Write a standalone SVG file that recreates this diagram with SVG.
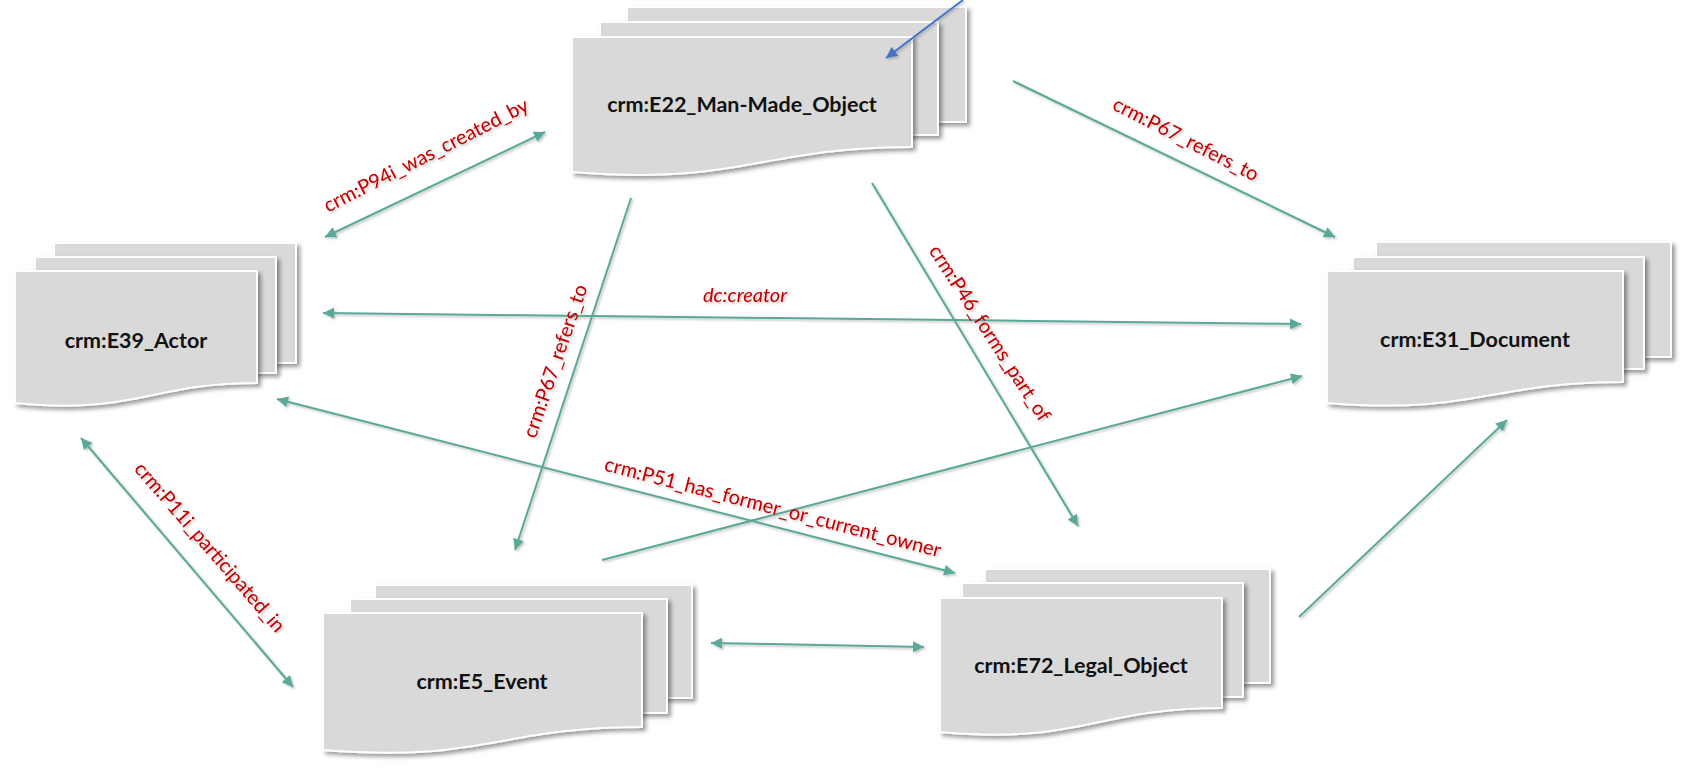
<svg xmlns="http://www.w3.org/2000/svg" width="1690" height="774" viewBox="0 0 1690 774">
<style>
.sheet{fill:#d9d9d9;stroke:#ffffff;stroke-width:2;filter:url(#sh)}
.nl{font-family:Lato,"Liberation Sans",sans-serif;font-weight:bold;font-size:21.5px;fill:#111;text-anchor:middle}
.el{font-family:Lato,"Liberation Sans",sans-serif;font-size:20px;fill:#c00000;text-anchor:middle}
.it{font-style:italic}
.c{stroke:#5aa897;stroke-width:2;fill:none;marker-end:url(#ah)}
.d{marker-start:url(#ah)}
.b{stroke:#4472c4;stroke-width:2;fill:none;marker-end:url(#bh)}
</style>
<defs>
<filter id="sh" x="-10%" y="-10%" width="125%" height="130%">
<feDropShadow dx="3" dy="3" stdDeviation="2" flood-color="#000" flood-opacity="0.4"/>
</filter>
<filter id="lsh" x="-10%" y="-10%" width="130%" height="130%">
<feDropShadow dx="1.5" dy="1.5" stdDeviation="1" flood-color="#000" flood-opacity="0.25"/>
</filter>
<marker id="ah" viewBox="0 0 10 10" refX="10" refY="5" markerWidth="15" markerHeight="11" markerUnits="userSpaceOnUse" orient="auto-start-reverse">
<path d="M0,0 L10,5 L0,10 z" fill="#5aa897"/>
</marker>
<marker id="bh" viewBox="0 0 10 10" refX="10" refY="5" markerWidth="15" markerHeight="11" markerUnits="userSpaceOnUse" orient="auto">
<path d="M0,0 L10,5 L0,10 z" fill="#4472c4"/>
</marker>
</defs>
<rect width="1690" height="774" fill="#ffffff"/>

<g id="E22">
<rect class="sheet" x="627" y="7" width="339" height="115"/>
<rect class="sheet" x="600" y="22" width="338" height="113"/>
<path class="sheet" d="M572,37 H912 V147 C760,147 742,186 572,172 Z"/>
<text class="nl" x="742" y="112">crm:E22_Man-Made_Object</text>
</g>

<g id="E39">
<rect class="sheet" x="54" y="243" width="242" height="120"/>
<rect class="sheet" x="35" y="257" width="241" height="116"/>
<path class="sheet" d="M15,271 H257 V383 C150,383 136,415 15,403 Z"/>
<text class="nl" x="136" y="348">crm:E39_Actor</text>
</g>

<g id="E31">
<rect class="sheet" x="1376" y="242" width="295" height="115"/>
<rect class="sheet" x="1353" y="257" width="291" height="112"/>
<path class="sheet" d="M1327,271 H1623 V382 C1490,382 1475,415 1327,403 Z"/>
<text class="nl" x="1475" y="347">crm:E31_Document</text>
</g>

<g id="E5">
<rect class="sheet" x="375" y="585" width="317" height="113"/>
<rect class="sheet" x="350" y="599" width="317" height="114"/>
<path class="sheet" d="M323,613 H642 V727 C500,727 482,763 323,750 Z"/>
<text class="nl" x="482" y="689">crm:E5_Event</text>
</g>

<g id="E72">
<rect class="sheet" x="985" y="569" width="285" height="114"/>
<rect class="sheet" x="962" y="583" width="281" height="114"/>
<path class="sheet" d="M940,598 H1222 V708 C1095,708 1080,745 940,732 Z"/>
<text class="nl" x="1081" y="673">crm:E72_Legal_Object</text>
</g>

<g id="connectors" filter="url(#lsh)">
<line class="c d" x1="325" y1="237" x2="545" y2="132"/>
<line class="c" x1="1013" y1="81" x2="1335" y2="237"/>
<line class="c d" x1="323" y1="313" x2="1301" y2="324"/>
<line class="c" x1="631" y1="198" x2="515" y2="550"/>
<line class="c" x1="872" y1="183" x2="1078" y2="526"/>
<line class="c d" x1="277" y1="399" x2="955" y2="573"/>
<line class="c" x1="602" y1="560" x2="1302" y2="376"/>
<line class="c d" x1="81" y1="438" x2="293" y2="687"/>
<line class="c d" x1="711" y1="643" x2="924" y2="647"/>
<line class="c" x1="1299" y1="617" x2="1507" y2="420"/>
<line class="b" x1="963" y1="0" x2="886" y2="58"/>
<text class="el" transform="translate(426,155) rotate(-27)" dy=".35em">crm:P94i_was_created_by</text>
<text class="el" transform="translate(1186,139) rotate(27)" dy=".35em">crm:P67_refers_to</text>
<text class="el it" x="745" y="302">dc:creator</text>
<text class="el" transform="translate(555,361) rotate(-71)" dy=".35em">crm:P67_refers_to</text>
<text class="el" transform="translate(990,333) rotate(57)" dy=".35em">crm:P46_forms_part_of</text>
<text class="el" transform="translate(773,507) rotate(14.5)" dy=".35em">crm:P51_has_former_or_current_owner</text>
<text class="el" transform="translate(210,547) rotate(49)" dy=".35em">crm:P11i_participated_in</text>
</g>
</svg>
